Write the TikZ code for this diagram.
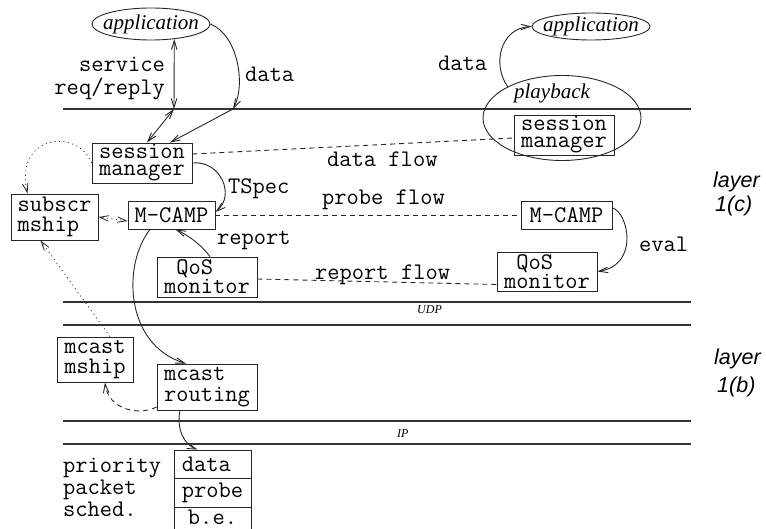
\documentclass[tikz,border=0pt]{standalone}
\usepackage{fontspec}
\newfontfamily\tmsfont{Liberation Serif}
\newfontfamily\hlvfont{Liberation Sans}
\usetikzlibrary{shapes.geometric,arrows.meta,calc}

\tikzset{
  ink/.style={draw=black!85, line width=0.9pt},
  tipend/.style={-{Straight Barb[length=9pt,width=5.5pt]}},
  tipboth/.style={{Straight Barb[length=9pt,width=5.5pt]}-{Straight Barb[length=9pt,width=5.5pt]}},
  mono/.style={font=\ttfamily\fontsize{23.8}{#1}\selectfont},
  box/.style={rectangle, draw=black!85, line width=0.9pt, inner sep=0pt, align=left},
  lbl/.style={mono=24, inner sep=0pt, anchor=base west},
  rlbl/.style={mono=24, inner sep=0pt, anchor=base east},
  apptext/.style={font=\tmsfont\itshape\fontsize{21}{24}\selectfont},
  appl/.style={ellipse, draw=black!85, line width=0.9pt, inner sep=0pt, apptext},
  layertext/.style={font=\hlvfont\itshape\fontsize{21.5}{24}\selectfont, inner sep=0pt, anchor=base west},
  protext/.style={font=\tmsfont\itshape\fontsize{12}{14}\selectfont, inner sep=0pt, anchor=base west},
  rule/.style={draw=black!80, line width=1.1pt},
  dashline/.style={ink, dash pattern=on 5pt off 4pt},
  dotline/.style={ink, line width=0.8pt, dash pattern=on 1pt off 3.5pt},
}

\begin{document}
\begin{tikzpicture}[x=1pt, y=-1pt]
\useasboundingbox (0,0) rectangle (766,529);

% layer boundaries
\draw[rule] (63,109) -- (691,109);
\draw[rule] (63,302) -- (691,302);
\draw[rule] (63,325) -- (691,325);
\draw[rule] (63,421) -- (691,421);
\draw[rule] (63,444) -- (691,444);
\coordinate (j1) at (174,109);
\coordinate (j2) at (233,109);
\node[protext] (udp) at (417,314) {UDP};
\node[protext] (ip) at (397,437) {IP};

% layer names
\node[layertext] (lc1) at (713,188) {layer};
\node[layertext] (lc2) at (715,212) {1(c)};
\node[layertext] (lb1) at (714,365) {layer};
\node[layertext] (lb2) at (717,392) {1(b)};

% applications and playback
\node[appl, minimum width=118pt, minimum height=32pt] (appL) at (151,24) {\makebox[0pt]{application}};
\node[appl, minimum width=118pt, minimum height=27pt] (appR) at (591,26.5) {\makebox[0pt]{application}};
\node[ellipse, draw=black!85, line width=0.9pt, minimum width=158pt, minimum height=85pt] (pb) at (562,118) {};
\node[apptext, inner sep=0pt] (pbl) at (552,93) {playback};

% boxes
\node[box, mono=17, minimum width=100pt, minimum height=40pt] (smL) at (142,163) {session\\manager};
\node[box, mono=17, minimum width=100pt, minimum height=40pt] (smR) at (564,135) {session\\manager};
\node[box, mono=20, minimum width=87pt, minimum height=46pt] (sub) at (54.5,217) {subscr\\mship};
\node[box, mono=20, minimum width=87pt, minimum height=28pt] (mcL) at (171.5,215) {M-CAMP};
\node[box, mono=20, minimum width=91pt, minimum height=28pt] (mcR) at (566.5,215) {M-CAMP};
\node[box, mono=19, minimum width=100pt, minimum height=40pt] (qmL) at (207,277) {\phantom{x}QoS\\monitor};
\node[box, mono=19, minimum width=100pt, minimum height=39pt] (qmR) at (547,271.5) {\phantom{x}QoS\\monitor};
\node[box, mono=20, minimum width=76pt, minimum height=45pt] (mms) at (95,359.5) {mcast\\mship};
\node[box, mono=21, minimum width=100pt, minimum height=46pt] (mrt) at (207,387) {mcast\\routing};

% priority scheduler queues
\node[box, mono=20, minimum width=77pt, minimum height=28pt] (r1) at (212.5,464) {data\phantom{x}};
\node[box, mono=20, minimum width=77pt, minimum height=29pt] (r2) at (212.5,492.5) {probe};
\node[box, mono=20, minimum width=77pt, minimum height=29pt, text depth=9pt] (r3) at (212.5,521.5) {b.e.};
\node[lbl] (pq1) at (63,472) {priority};
\node[lbl] (pq2) at (63,494) {packet};
\node[lbl] (pq3) at (63,516) {sched.};

% labels
\node[rlbl] (svc1) at (165,72) {service};
\node[rlbl] (svc2) at (165,95) {req/reply};
\node[lbl] (dataL) at (245,82) {data};
\node[lbl] (dataR) at (438,71) {data};
\node[lbl] (dflow) at (327,167) {data flow};
\node[lbl] (tspec) at (228,194) {TSpec};
\node[lbl] (pflow) at (322,205) {probe flow};
\node[lbl] (rep) at (217,245) {report};
\node[lbl] (rflow) at (315,280) {report flow};
\node[lbl] (eval) at (639,252) {eval};

% connectors
\draw[ink, tipboth] (appL.-33) -- (j1);
\draw[ink, tipboth] (j1) -- ([xshift=5pt]smL.north);
\draw[ink, tipend] (appL.east) .. controls (238,35) and (246,85) .. (j2);
\draw[ink, tipend] (j2) -- ([xshift=28pt]smL.north);
\draw[ink, tipend] (pb.150) .. controls (492,65) and (500,28) .. (appR.west);
\draw[dashline] ([yshift=9pt]smL.east) -- ([yshift=-3pt]smR.west);
\draw[ink, tipend] (smL.east) .. controls (220,160) and (236,195) .. ([yshift=3pt]mcL.east);
\draw[dotline, tipend] (smL.west) .. controls (78,128) and (14,134) .. ([xshift=-27pt]sub.north);
\draw[dotline, tipboth] ([yshift=-6pt]mcL.west) -- (sub.east);
\draw[dashline] (mcL.east) -- (mcR.west);
\draw[ink, tipend] ([xshift=3pt]qmL.north) .. controls (202,246) and (190,236) .. ([xshift=4pt]mcL.south);
\draw[ink, tipend] ([yshift=7pt]mcR.east) .. controls (628,212) and (640,265) .. (qmR.east);
\draw[dashline] ([yshift=-2pt]qmL.east) -- ([yshift=-13pt]qmR.west);
\draw[ink, tipend] ([xshift=-21.5pt]mcL.south) .. controls (122,265) and (125,345) .. ([xshift=-21pt]mrt.north);
\draw[dotline, tipend] ([xshift=15pt]mms.north) -- ([xshift=-14pt]sub.south);
\draw[dashline, tipend] ([yshift=-20pt]mrt.west) .. controls (140,416) and (108,410) .. ([xshift=10pt]mms.south);
\draw[ink, tipend] ([xshift=-27pt]mrt.south) .. controls (176,430) and (185,445) .. ([xshift=-15pt]r1.north);
\end{tikzpicture}
\end{document}
